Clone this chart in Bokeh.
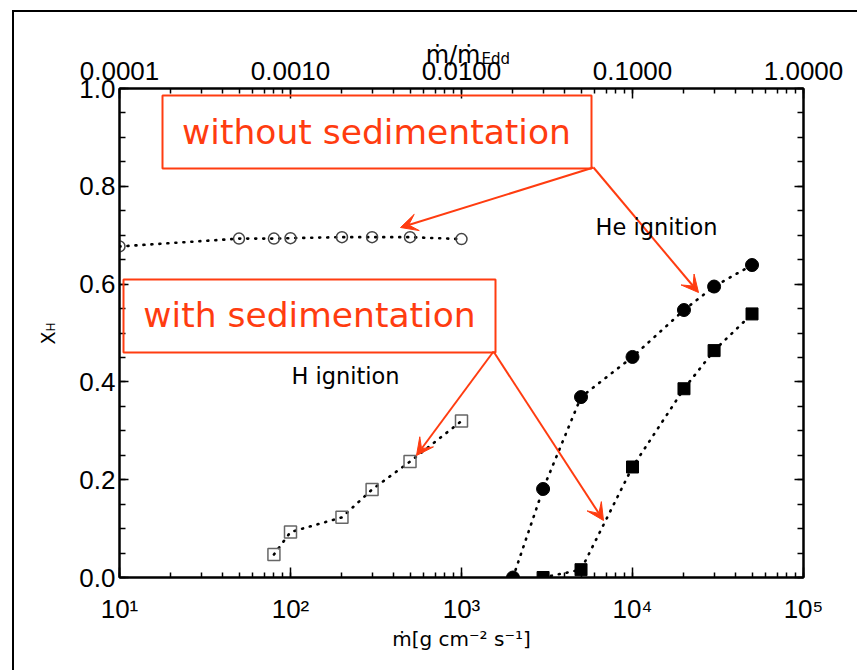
import math
from bokeh.plotting import figure
from bokeh.models import (Range1d, LogAxis, LinearAxis, LogScale, FixedTicker, LogTicker,
                          PrintfTickFormatter, Label, Arrow, VeeHead, BoxAnnotation,
                          InlineStyleSheet)
from bokeh.embed import file_html
from bokeh.resources import INLINE

# ---------------- data ----------------
# H ignition, without sedimentation (open circles)
h_nosed_mdot = [10, 50, 80, 100, 200, 300, 500, 1000]
h_nosed_xh = [0.677, 0.693, 0.693, 0.694, 0.696, 0.696, 0.696, 0.692]
# H ignition, with sedimentation (open squares)
h_sed_mdot = [80, 100, 200, 300, 500, 1000]
h_sed_xh = [0.047, 0.093, 0.123, 0.180, 0.237, 0.320]
# He ignition, without sedimentation (filled circles)
he_nosed_mdot = [2000, 3000, 5000, 10000, 20000, 30000, 50000]
he_nosed_xh = [0.0, 0.181, 0.369, 0.451, 0.547, 0.595, 0.639]
# He ignition, with sedimentation (filled squares)
he_sed_mdot = [3000, 5000, 10000, 20000, 30000, 50000]
he_sed_xh = [0.0, 0.016, 0.226, 0.386, 0.464, 0.539]

xtick_values = [10, 100, 1000, 10000, 100000]
xtick_labels = ["10\u00b9", "10\u00b2", "10\u00b3", "10\u2074", "10\u2075"]
top_tick_values = [1e-4, 1e-3, 1e-2, 1e-1, 1.0]
top_tick_labels = ["0.0001", "0.0010", "0.0100", "0.1000", "1.0000"]
ytick_values = [0.0, 0.2, 0.4, 0.6, 0.8, 1.0]
ytick_labels = ["0.0", "0.2", "0.4", "0.6", "0.8", "1.0"]
yminor_values = [i * 0.05 for i in range(21)]

# ---------------- layout ----------------
W, H = 859, 672
FL, FR, FT, FB = 119, 803, 88, 577
RED = "#ff3c10"
TICK_FONT = "Liberation Sans"


def to_x(px):
    return 10 ** (1 + 4 * (px - FL) / (FR - FL))


def to_y(py):
    return (FB - py) / (FB - FT)


p = figure(width=W, height=H, x_axis_type=None, y_axis_type=None,
           x_range=Range1d(10, 1e5), y_range=Range1d(0, 1.0),
           output_backend="svg", toolbar_location=None,
           min_border_left=FL, min_border_right=W - FR,
           min_border_top=FT, min_border_bottom=H - FB)
p.x_scale = LogScale()
p.background_fill_color = "white"
p.border_fill_color = "white"
p.outline_line_color = "black"
p.outline_line_width = 2
p.xgrid.visible = False
p.ygrid.visible = False

# outer frame line of the whole picture (only its left and top edges are visible)
p.stylesheets = [InlineStyleSheet(css=(
    ":host::before { content: ''; position: absolute; left: 12px; top: 10px; "
    "width: 2px; height: 660px; background: black; pointer-events: none; z-index: 5; }\n"
    ":host::after { content: ''; position: absolute; left: 12px; top: 10px; "
    "width: 845px; height: 2px; background: black; pointer-events: none; z-index: 5; }"))]

p.extra_x_ranges = {"top": Range1d(1e-4, 1.0)}
p.extra_x_scales = {"top": LogScale()}


def style_axis(ax, major_in, minor_in, size="26px"):
    ax.axis_line_color = "black"
    ax.axis_line_width = 2
    ax.major_tick_in = major_in
    ax.major_tick_out = 0
    ax.minor_tick_in = minor_in
    ax.minor_tick_out = 0
    ax.major_tick_line_width = 1.5
    ax.minor_tick_line_width = 1.5
    ax.major_tick_line_color = "black"
    ax.minor_tick_line_color = "black"
    ax.major_label_text_font = TICK_FONT
    ax.major_label_text_font_size = size
    ax.major_label_text_color = "black"


xb = LogAxis(ticker=LogTicker(num_minor_ticks=10),
             major_label_overrides=dict(zip(xtick_values, xtick_labels)))
style_axis(xb, 10, 5)
xb.major_label_standoff = 16
xb.axis_label = "\u1e41[g cm\u207b\u00b2 s\u207b\u00b9]"
xb.axis_label_text_font = "DejaVu Sans"
xb.axis_label_text_font_size = "20px"
xb.axis_label_text_font_style = "normal"
xb.axis_label_text_color = "black"
xb.axis_label_standoff = 0
p.add_layout(xb, "below")

xt = LogAxis(x_range_name="top", ticker=LogTicker(num_minor_ticks=10),
             formatter=PrintfTickFormatter(format="%.4f"),
             major_label_overrides=dict(zip(top_tick_values, top_tick_labels)))
style_axis(xt, 10, 5)
xt.major_label_standoff = 9
p.add_layout(xt, "above")

yticker = FixedTicker(ticks=ytick_values, minor_ticks=yminor_values)
yl = LinearAxis(ticker=yticker, major_label_overrides=dict(zip(ytick_values, ytick_labels)),
                formatter=PrintfTickFormatter(format="%.1f"))
style_axis(yl, 9, 6)
yl.major_label_standoff = 4
p.add_layout(yl, "left")

yr = LinearAxis(ticker=yticker, major_label_overrides={v: "" for v in ytick_values},
                formatter=PrintfTickFormatter(format=" "))
style_axis(yr, 9, 6)
p.add_layout(yr, "right")

# ---------------- series ----------------
DOT = dict(line_color="black", line_width=2.6, line_dash="1 7", line_cap="round")
p.line(h_nosed_mdot, h_nosed_xh, **DOT)
p.line(h_sed_mdot, h_sed_xh, **DOT)
p.line(he_nosed_mdot, he_nosed_xh, **DOT)
p.line(he_sed_mdot, he_sed_xh, **DOT)

p.scatter(h_nosed_mdot, h_nosed_xh, marker="circle", size=11, fill_color=None,
          line_color="#444444", line_width=1.5)
p.scatter(h_sed_mdot, h_sed_xh, marker="square", size=12, fill_color=None,
          line_color="#666666", line_width=1.5)
p.scatter(he_nosed_mdot, he_nosed_xh, marker="circle", size=13, fill_color="black",
          line_color="black")
p.scatter(he_sed_mdot, he_sed_xh, marker="square", size=12, fill_color="black",
          line_color="black")

# ---------------- annotations inside the frame ----------------
p.add_layout(BoxAnnotation(left=to_x(162), right=to_x(591), top=to_y(95), bottom=to_y(168),
                           fill_alpha=0, line_color=RED, line_width=2, line_alpha=1))
p.add_layout(BoxAnnotation(left=to_x(123), right=to_x(495), top=to_y(279), bottom=to_y(352),
                           fill_alpha=0, line_color=RED, line_width=2, line_alpha=1))

p.add_layout(Label(x=to_x(376), y=to_y(131), text="without sedimentation",
                   text_align="center", text_baseline="alphabetic",
                   text_font="DejaVu Sans", text_font_size="34.5px", text_color=RED))
p.add_layout(Label(x=to_x(309), y=to_y(314), text="with sedimentation",
                   text_align="center", text_baseline="alphabetic",
                   text_font="DejaVu Sans", text_font_size="34.5px", text_color=RED))

for (x0, y0, x1, y1) in [(593, 167, 400, 227), (593, 167, 698, 292),
                         (493, 351, 416, 455), (493, 351, 603, 520)]:
    p.add_layout(Arrow(x_start=to_x(x0), y_start=to_y(y0), x_end=to_x(x1), y_end=to_y(y1),
                       line_color=RED, line_width=2,
                       end=VeeHead(size=17, fill_color=RED, line_color=RED)))

p.add_layout(Label(x=to_x(656), y=to_y(226), text="He ignition",
                   text_align="center", text_baseline="alphabetic",
                   text_font="DejaVu Sans", text_font_size="22.5px", text_color="black"))
p.add_layout(Label(x=to_x(345), y=to_y(375), text="H ignition",
                   text_align="center", text_baseline="alphabetic",
                   text_font="DejaVu Sans", text_font_size="22.5px", text_color="black"))

# ---------------- texts outside the frame (side panels, canvas units) ----------------
# top axis title  m_dot / m_dot_Edd
p.add_layout(Label(x=480, y=54, x_units="canvas", y_units="canvas", text="\u1e41/\u1e41",
                   text_align="right", text_baseline="alphabetic",
                   text_font="DejaVu Sans", text_font_size="24px", text_color="black"), "above")
p.add_layout(Label(x=481, y=58, x_units="canvas", y_units="canvas", text="Edd",
                   text_align="left", text_baseline="alphabetic",
                   text_font="DejaVu Sans", text_font_size="15px", text_color="black"), "above")

# y axis title X_H
p.add_layout(Label(x=47, y=344, x_units="canvas", y_units="canvas", text="X", angle=math.pi / 2,
                   text_align="left", text_baseline="alphabetic",
                   text_font="DejaVu Sans", text_font_size="19px", text_color="black"), "left")
p.add_layout(Label(x=50, y=331, x_units="canvas", y_units="canvas", text="H", angle=math.pi / 2,
                   text_align="left", text_baseline="alphabetic",
                   text_font="DejaVu Sans", text_font_size="12px", text_color="black"), "left")

open("out.html", "w").write(file_html(p, INLINE))
